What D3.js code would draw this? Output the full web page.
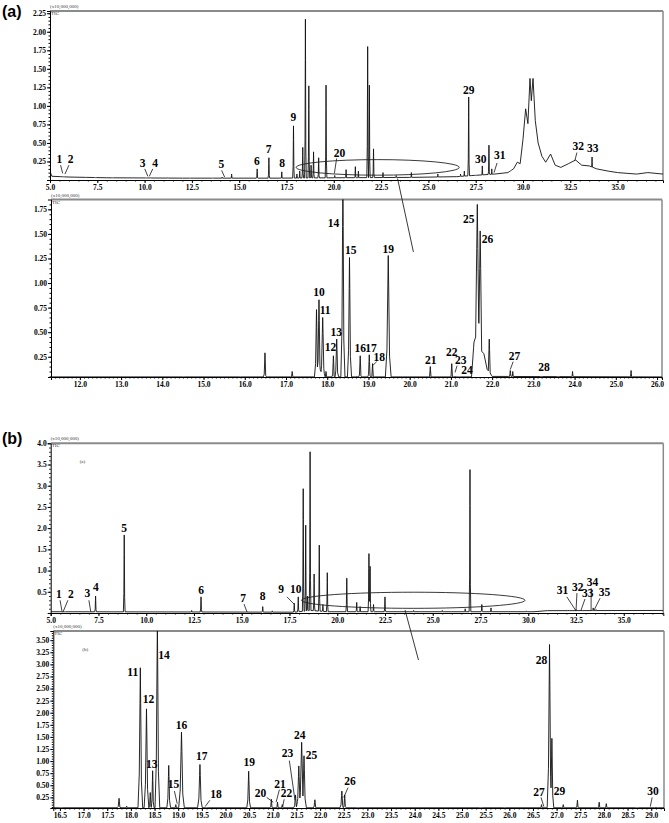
<!DOCTYPE html>
<html>
<head>
<meta charset="utf-8">
<script src="https://cdnjs.cloudflare.com/ajax/libs/d3/7.8.5/d3.min.js"></script>
<style>
body{margin:0;background:#fff;}
.tickTxt{font-family:"Liberation Serif","DejaVu Serif",serif;font-weight:bold;font-size:7.5px;fill:#000;}
.peakTxt{font-family:"Liberation Serif","DejaVu Serif",serif;font-weight:bold;font-size:11.5px;fill:#000;}
.unitTxt{font-family:"Liberation Serif",serif;font-size:5px;fill:#333;}
.panelTxt{font-family:"Liberation Sans",Arial,sans-serif;font-weight:bold;font-size:16px;fill:#000;}
</style>
</head>
<body>
<div id="chart"></div>
<script>
// ---------- (a) full run ----------
var a1PeakTime   = [5.05,5.6,5.72,6.9,7.4,8.3,10.1,10.3,11.2,12.4,13.6,14.1,14.6,15.95,16.57,17.25,17.87,18.05,18.2,18.36,18.5,18.68,18.8,18.93,19.2,19.59,20.05,20.65,21.14,21.3,21.79,21.88,22.1,22.6,23.3,24.1,25.5,26.7,26.9,27.13,27.5,27.85,28.2,28.35,29.35,33.65];
var a1PeakHeight = [0.08,0.05,0.04,0.04,0.02,0.02,0.02,0.03,0.03,0.02,0.02,0.04,0.08,0.15,0.30,0.11,0.73,0.08,0.12,0.44,2.17,1.27,0.20,0.38,0.30,1.28,0.06,0.14,0.18,0.12,1.80,1.28,0.42,0.10,0.06,0.10,0.08,0.08,0.12,1.12,0.06,0.19,0.47,0.15,0.10,0.31];
var a1BaseTime   = [5.0,5.1,6,8,12,17,20,24,26.5,27.3,28.5,29.2,29.5,29.7,29.85,30.0,30.14,30.26,30.37,30.44,30.53,30.65,30.8,31.0,31.2,31.46,31.7,32.0,32.4,32.78,33.1,33.5,33.9,34.5,35.0,35.5,36.0,36.6,37.4];
var a1BaseValue  = [0.12,0.05,0.04,0.03,0.025,0.025,0.03,0.035,0.045,0.06,0.08,0.10,0.15,0.24,0.22,0.55,0.96,0.76,1.37,1.07,1.37,0.80,0.50,0.32,0.24,0.35,0.20,0.17,0.22,0.27,0.20,0.19,0.15,0.12,0.10,0.09,0.08,0.10,0.08];
var a1XTicks = [5.0,7.5,10.0,12.5,15.0,17.5,20.0,22.5,25.0,27.5,30.0,32.5,35.0];
var a1YTicks = [0.25,0.50,0.75,1.00,1.25,1.50,1.75,2.00,2.25];
// [number, text time, text value, leader from (t,v), leader to (t,v)]
var a1Labels = [
  ["1",5.49,0.23,5.56,0.2,5.67,0.09],["2",6.09,0.23,6.0,0.2,5.79,0.08],
  ["3",9.89,0.18,10.01,0.15,10.17,0.05],["4",10.55,0.18,10.43,0.15,10.25,0.05],
  ["5",14.06,0.16,14.07,0.13,14.23,0.04],["6",15.93,0.2],["7",16.55,0.36],
  ["8",17.27,0.17],["9",17.87,0.79],["20",20.3,0.31,20.15,0.29,20.03,0.09],
  ["29",27.13,1.16],["30",27.77,0.23],["31",28.77,0.29,28.63,0.23,28.47,0.1],
  ["32",32.92,0.4,32.85,0.37,32.74,0.26],["33",33.69,0.38]
];

// ---------- (a) zoomed 11-26 min ----------
var a2PeakTime   = [14.52,15.9,16.49,17.15,17.74,17.8,17.89,17.97,18.15,18.23,18.38,18.54,18.72,18.8,19.02,19.1,19.48,20.5,21.02,21.1,21.2,21.64,21.71,21.93,22.44,22.5,23.2,23.6,23.95,25.37];
var a2PeakHeight = [0.02,0.02,0.29,0.10,0.73,0.83,0.65,0.10,0.26,0.43,2.10,1.26,0.05,0.26,0.27,0.18,1.28,0.15,0.18,0.05,0.03,1.80,1.53,0.43,0.11,0.10,0.02,0.02,0.10,0.11];
var a2PeakWidth  = [0.03,0.03,0.04,0.04,0.05,0.05,0.06,0.04,0.04,0.05,0.05,0.05,0.03,0.04,0.04,0.04,0.07,0.04,0.04,0.03,0.03,0.09,0.08,0.05,0.04,0.03,0.03,0.03,0.03,0.03];
var a2BaseTime   = [11.3,21.5,21.56,21.8,21.88,22.0,26.1];
var a2BaseValue  = [0.045,0.045,0.40,0.28,0.12,0.05,0.045];
var a2XTicks = [12,13,14,15,16,17,18,19,20,21,22,23,24,25,26];
var a2YTicks = [0.25,0.50,0.75,1.00,1.25,1.50,1.75];
var a2Labels = [
  ["10",17.8,0.87],["11",17.95,0.68],["12",18.08,0.31],["13",18.22,0.46],
  ["14",18.15,1.57],["15",18.57,1.30],["16",18.8,0.30],["17",19.06,0.30],
  ["18",19.26,0.21,19.2,0.2,19.1,0.16],["19",19.48,1.31],["21",20.51,0.18],
  ["22",21.02,0.26],["23",21.24,0.18,21.15,0.16,21.1,0.09],["24",21.39,0.07],
  ["25",21.43,1.61],["26",21.89,1.41],["27",22.54,0.22,22.51,0.2,22.44,0.12],
  ["28",23.26,0.10]
];

// ---------- (b) full run ----------
var b1PeakTime   = [5.6,5.72,7.07,7.35,8.85,12.38,12.87,15.26,16.1,16.6,17.75,17.96,18.22,18.35,18.45,18.58,18.79,19.06,19.25,19.48,20.5,21.02,21.2,21.66,21.72,21.9,22.5,24.0,25.5,26.7,26.95,27.57,28.05,29.9,32.1,32.5,32.8,33.4,33.55];
var b1PeakHeight = [0.03,0.03,0.03,0.40,1.84,0.06,0.38,0.03,0.15,0.05,0.23,0.38,2.93,2.07,0.40,3.80,0.92,1.60,0.20,0.95,0.82,0.25,0.15,1.40,1.10,0.20,0.38,0.06,0.06,0.10,3.38,0.20,0.12,0.05,0.07,0.08,0.07,0.12,0.08];
var b1BaseTime   = [5.0,17.8,18.6,19.5,30.3,31.0,37.1];
var b1BaseValue  = [0.03,0.02,0.06,0.03,0.03,0.055,0.06];
var b1XTicks = [5.0,7.5,10.0,12.5,15.0,17.5,20.0,22.5,25.0,27.5,30.0,32.5,35.0];
var b1YTicks = [0.5,1.0,1.5,2.0,2.5,3.0,3.5,4.0];
var b1Labels = [
  ["1",5.43,0.35,5.49,0.3,5.6,0.02],["2",6.05,0.35,5.9,0.3,5.64,0.02],
  ["3",6.92,0.385,7.0,0.3,7.1,0.02],["4",7.36,0.53],["5",8.85,1.92],
  ["6",12.87,0.45],["7",15.08,0.27,15.12,0.21,15.28,0.02],["8",16.1,0.31],
  ["9",17.06,0.46,17.37,0.38,17.74,0.21],["10",17.83,0.46],
  ["31",31.79,0.45,32.02,0.38,32.5,0.05],["32",32.59,0.53,32.55,0.47,32.5,0.05],
  ["33",33.11,0.37,32.97,0.33,32.75,0.05],["34",33.36,0.64,33.29,0.59,33.29,0.07],
  ["35",33.99,0.41,33.76,0.35,33.45,0.07]
];

// ---------- (b) zoomed 16.5-29 min ----------
var b2PeakTime   = [16.52,17.75,17.91,18.2,18.33,18.41,18.46,18.56,18.8,18.95,19.07,19.46,19.6,20.49,20.97,21.1,21.2,21.48,21.55,21.61,21.66,21.89,22.46,22.52,22.8,25.4,25.9,26.68,26.85,26.9,27.14,27.44,27.9,28.05,28.7,29.1];
var b2PeakHeight = [0.03,0.23,0.07,2.93,2.08,0.35,0.80,3.90,0.91,0.10,1.60,0.93,0.03,0.79,0.21,0.15,0.10,0.30,0.90,1.39,1.11,0.20,0.38,0.30,0.04,0.03,0.03,0.10,3.41,1.47,0.10,0.19,0.15,0.12,0.03,0.05];
var b2PeakWidth  = [0.03,0.04,0.03,0.05,0.05,0.03,0.03,0.05,0.04,0.03,0.06,0.05,0.03,0.04,0.03,0.03,0.03,0.04,0.05,0.06,0.05,0.04,0.04,0.03,0.03,0.03,0.03,0.03,0.05,0.04,0.03,0.03,0.03,0.03,0.03,0.03];
var b2BaseTime   = [16.36,29.27];
var b2BaseValue  = [0.035,0.035];
var b2XTicks = [16.5,17.0,17.5,18.0,18.5,19.0,19.5,20.0,20.5,21.0,21.5,22.0,22.5,23.0,23.5,24.0,24.5,25.0,25.5,26.0,26.5,27.0,27.5,28.0,28.5,29.0];
var b2YTicks = [0.25,0.50,0.75,1.00,1.25,1.50,1.75,2.00,2.25,2.50,2.75,3.00,3.25,3.50];
var b2Labels = [
  ["11",18.04,2.75],["12",18.37,2.2],["13",18.44,0.85],["14",18.7,3.11],
  ["15",18.9,0.44,18.92,0.38,18.98,0.12],["16",19.07,1.67],["17",19.5,1.03],
  ["18",19.8,0.24,19.67,0.19,19.57,0.06],["19",20.5,0.89],
  ["20",20.74,0.25,20.87,0.25,21.01,0.15],["21",21.15,0.45,21.14,0.41,21.07,0.15],
  ["22",21.29,0.25,21.24,0.21,21.21,0.06],["23",21.31,1.08,21.35,1.01,21.47,0.19],
  ["24",21.57,1.46],["25",21.82,1.05],["26",22.63,0.51,22.59,0.45,22.5,0.25],
  ["27",26.63,0.27,26.67,0.25,26.73,0.06],["28",26.68,3.01],["29",27.06,0.29],
  ["30",29.04,0.29,29.02,0.25,28.98,0.06]
];

var svg = d3.select("#chart").append("svg")
    .attr("width", 669).attr("height", 823);

// peak outline: offset (in half-widths) and fraction of the height
var shapeOff  = [-1,-0.45,-0.15,0,0.15,0.45,1];
var shapeFrac = [0,0.25,0.75,1,0.75,0.2,0];

function buildTrace(p){
  var base = d3.scaleLinear().domain(p.baseTime).range(p.baseValue).clamp(true);
  var ts = p.baseTime.slice();
  p.peakTime.forEach(function(t,i){
    var w = p.peakWidth ? p.peakWidth[i] : p.width;
    shapeOff.forEach(function(o){ ts.push(t + o*w); });
  });
  ts.push(p.xDomain[0], p.xDomain[1]);
  ts = ts.filter(function(t){ return t>=p.xDomain[0] && t<=p.xDomain[1]; });
  ts.sort(d3.ascending);
  var pts = [];
  ts.forEach(function(t){
    var v = base(t);
    p.peakTime.forEach(function(pt,i){
      var w = p.peakWidth ? p.peakWidth[i] : p.width;
      var r = (t-pt)/w;
      if(r > -1 && r < 1){
        var f = d3.scaleLinear().domain(shapeOff).range(shapeFrac)(r);
        v = Math.max(v, p.peakHeight[i]*f);
      }
    });
    pts.push([t,v]);
  });
  return pts;
}

function drawPanel(p){
  var x = d3.scaleLinear().domain(p.xDomain).range([p.left, p.right]);
  var y = d3.scaleLinear().domain(p.yDomain).range([p.bottom, p.top]);
  p.x = x; p.y = y;
  var g = svg.append("g").attr("class", p.id);

  g.append("clipPath").attr("id", "clip_"+p.id)
    .append("rect").attr("x", p.left).attr("y", p.top)
    .attr("width", p.right-p.left).attr("height", p.bottom-p.top);

  // frame: gray top and right
  g.append("line").attr("x1", p.left).attr("x2", p.right).attr("y1", p.top).attr("y2", p.top)
    .attr("stroke", "#8a8a8a").attr("stroke-width", 2);
  g.append("line").attr("x1", p.right).attr("x2", p.right).attr("y1", p.top).attr("y2", p.bottom)
    .attr("stroke", "#8a8a8a").attr("stroke-width", 1.5);

  var line = d3.line().x(function(d){ return x(d[0]); }).y(function(d){ return y(d[1]); });
  g.append("path").datum(buildTrace(p))
    .attr("clip-path", "url(#clip_"+p.id+")")
    .attr("d", line).attr("fill", "none").attr("stroke", "#111").attr("stroke-width", 0.9);

  // minor ticks
  g.append("g").attr("transform", "translate(0,"+p.bottom+")")
    .call(d3.axisBottom(x).tickValues(d3.range(p.xDomain[0]-(p.xDomain[0]%p.xMinor)+p.xMinor, p.xDomain[1], p.xMinor)).tickSize(1.5).tickFormat(""))
    .call(function(a){ a.select(".domain").remove(); });
  g.append("g").attr("transform", "translate("+p.left+",0)")
    .call(d3.axisLeft(y).tickValues(d3.range(p.yMinor, p.yDomain[1], p.yMinor)).tickSize(1.5).tickFormat(""))
    .call(function(a){ a.select(".domain").remove(); });

  var xa = g.append("g").attr("transform", "translate(0,"+p.bottom+")")
    .call(d3.axisBottom(x).tickValues(p.xTicks).tickSize(3).tickPadding(2).tickFormat(d3.format(p.xFmt)));
  var ya = g.append("g").attr("transform", "translate("+p.left+",0)")
    .call(d3.axisLeft(y).tickValues(p.yTicks).tickSize(3).tickPadding(1).tickFormat(d3.format(p.yFmt)));
  [xa, ya].forEach(function(a){
    a.attr("font-size", null).attr("font-family", null);
    a.selectAll("text").attr("class", "tickTxt");
    a.select(".domain").attr("stroke", "#000");
  });
  g.selectAll(".tick line").attr("stroke", "#000");

  g.append("text").attr("class", "unitTxt").attr("x", p.left).attr("y", p.top-3).text("(x10,000,000)");
  g.append("text").attr("class", "unitTxt").attr("x", p.left+1).attr("y", p.top+4).text("TIC");
  if(p.tag){
    g.append("text").attr("class", "unitTxt").attr("x", p.left+29).attr("y", p.top+20).text(p.tag);
  }

  // peak numbers and leaders
  p.labels.forEach(function(l){
    g.append("text").attr("class", "peakTxt").attr("text-anchor", "middle")
      .attr("x", x(l[1])).attr("y", y(l[2])).text(l[0]);
    if(l.length > 3){
      g.append("line").attr("x1", x(l[3])).attr("y1", y(l[4]))
        .attr("x2", x(l[5])).attr("y2", y(l[6]))
        .attr("stroke", "#111").attr("stroke-width", 0.8);
    }
  });
  return p;
}

var pa1 = drawPanel({id:"a1", peakTime:a1PeakTime, peakHeight:a1PeakHeight, width:0.045,
  baseTime:a1BaseTime, baseValue:a1BaseValue, labels:a1Labels,
  xDomain:[5,37.4], yDomain:[0,2.28], xTicks:a1XTicks, yTicks:a1YTicks, xMinor:0.5, yMinor:0.05,
  xFmt:".1f", yFmt:".2f", left:50, right:663, top:11, bottom:180});
var pa2 = drawPanel({id:"a2", peakTime:a2PeakTime, peakHeight:a2PeakHeight, peakWidth:a2PeakWidth,
  baseTime:a2BaseTime, baseValue:a2BaseValue, labels:a2Labels,
  xDomain:[11.3,26.12], yDomain:[0.044,1.85], xTicks:a2XTicks, yTicks:a2YTicks, xMinor:0.1, yMinor:0.05,
  xFmt:".1f", yFmt:".2f", left:51, right:662, top:199.5, bottom:377});
var pb1 = drawPanel({id:"b1", peakTime:b1PeakTime, peakHeight:b1PeakHeight, width:0.045,
  baseTime:b1BaseTime, baseValue:b1BaseValue, labels:b1Labels, tag:"(a)",
  xDomain:[5,37.07], yDomain:[0,4.0], xTicks:b1XTicks, yTicks:b1YTicks, xMinor:0.5, yMinor:0.1,
  xFmt:".1f", yFmt:".1f", left:50.7, right:663.3, top:443.3, bottom:613});
var pb2 = drawPanel({id:"b2", peakTime:b2PeakTime, peakHeight:b2PeakHeight, peakWidth:b2PeakWidth,
  baseTime:b2BaseTime, baseValue:b2BaseValue, labels:b2Labels, tag:"(b)",
  xDomain:[16.36,29.27], yDomain:[0.03,3.69], xTicks:b2XTicks, yTicks:b2YTicks, xMinor:0.1, yMinor:0.05,
  xFmt:".1f", yFmt:".2f", left:53.3, right:664, top:631, bottom:808});

// zoom ellipse + connector
function zoomMark(src, dst, c, r, from, to){
  var cx = src.x(c[0]), cy = src.y(c[1]);
  svg.append("ellipse").attr("cx", cx).attr("cy", cy)
    .attr("rx", src.x(c[0]+r[0]) - cx).attr("ry", cy - src.y(c[1]+r[1]))
    .attr("fill", "none").attr("stroke", "#222").attr("stroke-width", 0.9);
  svg.append("line").attr("x1", src.x(from[0])).attr("y1", src.y(from[1]))
    .attr("x2", dst.x(to[0])).attr("y2", dst.y(to[1]))
    .attr("stroke", "#222").attr("stroke-width", 0.9);
}
zoomMark(pa1, pa2, [22.32,0.17], [4.31,0.105], [23.37,0.02], [20.09,1.317]);
zoomMark(pb1, pb2, [23.98,0.30], [5.85,0.19], [23.55,0.07], [24.08,3.09]);

svg.append("text").attr("class", "panelTxt").attr("x", 2).attr("y", 17).text("(a)");
svg.append("text").attr("class", "panelTxt").attr("x", 2).attr("y", 444).text("(b)");
</script>
</body>
</html>
